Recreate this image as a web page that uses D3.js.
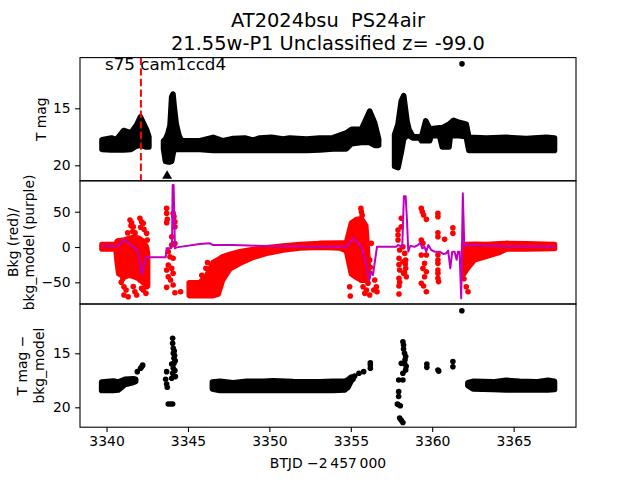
<!DOCTYPE html>
<html><head><meta charset="utf-8">
<script src="https://cdn.jsdelivr.net/npm/d3@7"></script>
<style>body{margin:0;background:#fff}svg{display:block}text{font-family:"DejaVu Sans",sans-serif}</style>
</head><body><svg id="c" width="640" height="480"></svg>
<script>
// ---------- DATA ----------
const titleLines = ["AT2024bsu\u00a0\u00a0PS24air", "21.55w-P1 Unclassified z= -99.0"];
const annot = "s75 cam1ccd4";
const xTicks = [3340, 3345, 3350, 3355, 3360, 3365];
const topTicks = [15, 20];
const midTicks = [-50, 0, 50];
const botTicks = [15, 20];
const sectorStart = 3342.11;

// dense black bands, top panel: [time, bright edge mag, faint edge mag]
const topSegA = [[3339.72,17.75,18.6],[3340.3,17.6,18.65],[3340.6,17.75,18.65],[3341.05,16.95,18.65],[3341.5,17.15,18.6],[3341.85,16.45,18.3],[3342.08,15.75,18.25],[3342.45,16.85,18.4],[3342.6,17.5,18.4]];
const topSegB = [[3343.5,17.85,18.55],[3343.62,17.7,19.65],[3343.75,17.3,19.7],[3343.9,16.5,19.7],[3344.0,14.0,19.65],[3344.08,13.75,19.0],[3344.15,14.8,18.6],[3344.28,16.4,18.6],[3344.45,17.4,18.6],[3344.61,17.85,18.6],[3345.73,17.85,18.6],[3346.55,17.55,18.7],[3347.16,17.85,18.7],[3347.78,17.65,18.7],[3348.49,17.6,18.7],[3349.0,17.8,18.7],[3349.41,17.6,18.7],[3350.13,17.55,18.7],[3350.84,17.7,18.7],[3351.25,17.6,18.7],[3352.28,17.7,18.7],[3353.09,17.6,18.65],[3353.91,17.58,18.56],[3354.73,17.15,18.56],[3355.05,16.85,18.1],[3355.65,16.85,18.0],[3356.16,15.25,18.0],[3356.47,16.3,18.25],[3356.71,17.7,18.25]];
const topSegD = [[3357.69,17.3,20.1],[3357.9,16.4,20.2],[3358.1,14.35,18.85],[3358.25,13.9,17.65],[3358.45,16.1,17.4],[3358.57,16.85,17.4],[3358.82,17.5,17.6],[3359.23,17.5,17.6],[3359.35,17.5,17.85],[3359.6,16.1,17.85],[3359.84,16.8,17.85],[3359.94,16.8,17.4],[3360.45,16.7,17.4],[3360.62,16.7,18.4],[3361.03,16.4,18.4],[3361.11,16.3,17.4],[3361.31,16.05,17.4],[3361.68,16.25,17.4],[3362.09,16.4,17.5],[3362.25,17.55,18.7],[3363.32,17.6,18.7],[3364.55,17.55,18.7],[3365.78,17.65,18.7],[3367.0,17.55,18.7],[3367.51,17.6,18.7]];
const topPoints = [[3361.83, 11.1]];
const topLimits = [[3343.72, 20.94]];

// middle panel: red background bands [time, high, low] and scattered red points, purple model
const midSegA = [[3339.72,3.5,-2.7],[3340.58,3.5,-2.7],[3340.65,8,-20],[3340.75,9,-38],[3341.1,10,-42],[3341.4,12,-40],[3341.7,14,-42],[3342.0,12,-45],[3342.25,8,-50],[3342.45,0,-55],[3342.52,-10,-55]];
const midSegB = [[3345.08,-50.6,-68.8],[3345.73,-50.6,-68.8],[3346.14,-41,-68.8],[3346.55,-22,-68.8],[3346.86,-18,-66.5],[3347.12,-14,-47],[3347.57,-10.5,-31],[3348.19,-6.7,-23],[3349.0,-3.5,-14.5],[3349.82,-1,-9],[3350.84,1.3,-4.2],[3351.87,3.6,-1.3],[3353.09,5.1,-0.3],[3354.32,5.5,-1.3],[3354.73,5.5,-5],[3355.04,34,-38],[3355.35,39,-43],[3355.65,40,-47],[3355.92,30,-47],[3356.06,-18,-43]];
const midSegC = [[3361.93,3.6,-38],[3362.2,3.6,-29],[3362.6,4,-18],[3363.32,3.6,-13],[3364.14,4.5,-7.4],[3364.55,5.1,-2.7],[3365.78,4.5,-2.7],[3367.51,3.6,-2]];
const midScatter = [[3341.3,20],[3341.44,38.2],[3341.5,30],[3341.54,34.4],[3341.64,28.8],[3341.6,22],[3341.75,20],[3342.05,40.6],[3342.1,28],[3342.15,35.8],[3342.25,33.5],[3342.3,25],[3342.46,19.4],[3342.5,9.9],
[3341.1,-42],[3341.07,-56.2],[3341.2,-60.9],[3341.07,-68],[3341.33,-70.4],[3341.64,-56],[3341.74,-63.3],[3341.85,-68],[3342.05,-46.7],[3342.15,-58.5],[3342.25,-60.9],[3342.42,-65.6],[3342.46,-56.2],[3340.9,-50],[3341.0,-45],
[3343.69,54.8],[3343.69,47.7],[3343.73,39.2],[3343.69,34.5],[3344.09,47.7],[3344.14,43],[3344.2,35.8],[3344.2,28.8],[3344.0,14.6],[3343.79,-6.6],[3343.89,-13.7],[3344.09,-16],[3343.79,-25.5],[3344.0,-30.2],[3343.69,-32.6],[3344.09,-37.3],[3343.79,-42],[3343.93,-46.7],[3343.69,-57.1],[3344.09,-53.8],[3344.2,-64.7],[3344.55,-63.3],[3344.0,2.8],[3344.2,5],
[3345.85,-40],[3346.1,-30],[3346.2,-22],
[3354.93,-56.2],[3354.97,-69.4],[3355.75,-56.2],[3355.86,-65.6],[3356.16,-68],[3356.47,-46.7],[3356.57,-56.2],[3356.61,-63.3],[3356.41,-60.9],[3356.26,5.2],[3356.16,-18.4],[3356.2,-28.8],[3356.06,-51.4],[3355.96,-61],[3355.62,55],[3355.65,50],[3355.7,45],
[3357.9,24.1],[3357.9,17],[3357.9,9.9],[3358.0,-4.2],[3357.96,-16],[3358.0,-32.6],[3357.96,-44.3],[3357.96,-55.2],[3357.96,-66.6],[3358.2,0.4],[3358.31,-9],[3358.37,-18.4],[3358.37,-30.2],[3358.41,-42],[3358.2,-20.8],[3358.24,-37.3],[3358.1,40.6],[3358.1,28.8],[3357.96,-25],[3358.0,-50],[3358.35,-24],[3358.3,-36],
[3359.33,54.8],[3359.39,50],[3359.47,45.3],[3359.64,39.2],[3359.33,9.9],[3359.43,5.2],[3359.33,-11.3],[3359.64,-11.3],[3359.53,-23.1],[3359.43,-30.2],[3359.64,-35],[3359.53,-42],[3359.33,-51.4],[3359.47,-55.2],[3359.64,-63.3],
[3360.35,47.7],[3360.35,43],[3360.35,20.3],[3360.35,14.6],[3360.35,-11.3],[3360.35,-18.4],[3360.35,-23.1],[3360.35,-32.6],[3360.35,-37.3],[3360.35,-44.3],[3360.39,-49],
[3360.76,10.9],[3361.27,27.4],[3361.27,19.4],[3362.09,-56.2],[3362.2,-63.3],[3361.95,-45]];
const bkgModel = [[3339.72,1.4],[3340.72,1.4],[3341.07,10.9],[3341.64,0.4],[3341.95,-6.6],[3342.15,-38.7],[3342.3,-26.9],[3342.42,-14.6],[3343.63,-14.6],[3343.69,-1.9],[3343.95,-1.9],[3344.02,2.8],[3344.06,88],[3344.12,88],[3344.2,-1.9],[3344.3,-0.5],[3345.73,4.2],[3346.35,5.2],[3346.55,2.8],[3347.78,2.8],[3349.21,1.9],[3353.09,0.4],[3354.73,0.4],[3355.14,12.3],[3355.65,0.4],[3355.95,-23.1],[3356.12,-46.7],[3356.26,-35],[3356.36,-39.6],[3356.61,0.4],[3357.79,0.4],[3357.9,2.8],[3358.16,0.4],[3358.26,72],[3358.37,72],[3358.45,38],[3358.53,-6.6],[3358.65,1.4],[3358.92,0.4],[3359.12,2.8],[3359.27,6.1],[3359.39,-1.9],[3359.53,0.4],[3359.63,-6.6],[3359.76,2.8],[3359.94,-4.2],[3360.15,-6.6],[3360.45,-6.6],[3360.7,-9.9],[3360.86,-8.9],[3360.98,-5.1],[3361.11,-30.2],[3361.23,-6.6],[3361.37,-6.6],[3361.5,-18],[3361.58,-6.6],[3361.68,-6.6],[3361.78,-72.7],[3361.88,76],[3361.97,1.4],[3362.29,2.8],[3364.13,1.4],[3367.61,0.4]];

// bottom panel: T mag - bkg_model
const botSegA = [[3339.7,17.66,18.45],[3340.41,17.56,18.45],[3340.72,17.66,18.4],[3341.13,17.4,17.9],[3341.64,17.35,17.7],[3341.79,17.4,17.6]];
const botSegB = [[3346.5,17.65,18.3],[3346.96,17.6,18.45],[3347.78,17.72,18.45],[3348.6,17.6,18.45],[3349.62,17.6,18.45],[3350.23,17.55,18.45],[3351.46,17.62,18.45],[3353.09,17.65,18.45],[3353.91,17.6,18.45],[3354.62,17.6,18.4],[3354.83,17.44,18.15],[3355.03,17.2,17.55],[3355.14,17.2,17.4]];
const botSegC = [[3362.19,17.72,18.0],[3362.5,17.6,18.3],[3363.72,17.65,18.35],[3364.54,17.5,18.4],[3365.36,17.6,18.4],[3366.38,17.65,18.4],[3367.1,17.5,18.4],[3367.51,17.6,18.35]];
const botScatter = [[3341.89,16.7],[3342.09,16.39],[3342.16,16.24],[3342.22,16.1],
[3344.06,13.61],[3344.06,14.07],[3344.1,14.54],[3344.1,15.0],[3344.14,15.46],[3344.14,15.93],[3344.1,16.39],[3344.06,16.85],[3344.23,17.16],[3344.0,17.31],[3343.69,16.7],[3343.63,17.41],[3343.69,17.84],[3343.73,18.15],[3343.79,19.69],[3343.93,19.69],[3344.06,19.69],[3344.18,15.2],[3344.22,15.7],[3344.0,16.0],[3344.2,16.6],[3344.16,14.8],
[3355.24,17.1],[3355.5,16.85],[3355.79,16.7],[3356.2,16.08],[3356.2,16.39],[3356.2,15.87],
[3358.2,13.93],[3358.24,14.23],[3358.24,14.6],[3358.3,15.0],[3358.37,15.3],[3358.3,15.93],[3358.37,16.54],[3358.2,16.85],[3358.1,15.93],[3358.33,15.6],[3358.4,16.2],[3357.94,17.47],[3358.2,17.47],[3357.94,18.55],[3357.94,19.0],[3357.86,19.69],[3358.04,19.85],[3357.9,19.75],[3358.0,21.0],[3358.2,21.4],[3358.1,21.2],
[3359.67,15.99],[3359.67,16.3],[3360.35,16.55],[3360.4,16.65],[3361.27,15.77],[3361.27,16.24],[3361.82,11.06]];

// ---------- LAYOUT ----------
const L = 80, R = 576;
const panels = {top:[57.6,180.8], mid:[180.8,304], bot:[304,427.2]};
const svg = d3.select("#c");
const x = d3.scaleLinear().domain([3338.37, 3368.83]).range([L, R]);
const yTop = d3.scaleLinear().domain([10.55, 21.36]).range(panels.top);
const yMid = d3.scaleLinear().domain([-80.7, 93.8]).range([panels.mid[1], panels.mid[0]]);
const yBot = d3.scaleLinear().domain([10.44, 21.84]).range(panels.bot);
const DOT = 2.8;

const defs = svg.append("defs");
Object.entries(panels).forEach(([k,[a,b]]) => {
  defs.append("clipPath").attr("id","clip-"+k).append("rect").attr("x",L).attr("y",a).attr("width",R-L).attr("height",b-a);
});

function bands(g, segs, y, color){
  const area = d3.area().x(d=>x(d[0])).y0(d=>y(d[2])).y1(d=>y(d[1]));
  g.selectAll(null).data(segs).join("path").attr("d",area)
    .attr("fill",color).attr("stroke",color).attr("stroke-width",DOT*2).attr("stroke-linejoin","round");
}
function dots(g, pts, y, color){
  g.selectAll(null).data(pts).join("circle").attr("cx",d=>x(d[0])).attr("cy",d=>y(d[1])).attr("r",DOT).attr("fill",color);
}

// top panel
const gT = svg.append("g").attr("clip-path","url(#clip-top)");
bands(gT, [topSegA, topSegB, topSegD], yTop, "#000");
dots(gT, topPoints, yTop, "#000");
gT.selectAll(null).data(topLimits).join("path").attr("d", d3.symbol(d3.symbolTriangle, 42)())
  .attr("transform", d=>`translate(${x(d[0])},${yTop(d[1])})`).attr("fill","#000");
gT.append("line").attr("x1",x(sectorStart)).attr("x2",x(sectorStart)).attr("y1",panels.top[0]).attr("y2",panels.top[1])
  .attr("stroke","#ff0000").attr("stroke-width",2).attr("stroke-dasharray","7.4,3.2");

// middle panel
const gM = svg.append("g").attr("clip-path","url(#clip-mid)");
bands(gM, [midSegA, midSegB, midSegC], yMid, "#ff0000");
dots(gM, midScatter, yMid, "#ff0000");
gM.append("path").datum(bkgModel).attr("d", d3.line().x(d=>x(d[0])).y(d=>yMid(d[1])))
  .attr("fill","none").attr("stroke","#bf00bf").attr("stroke-width",2).attr("stroke-linejoin","round");

// bottom panel
const gB = svg.append("g").attr("clip-path","url(#clip-bot)");
bands(gB, [botSegA, botSegB, botSegC], yBot, "#000");
dots(gB, botScatter, yBot, "#000");

// frames
Object.values(panels).forEach(([a,b]) => {
  svg.append("rect").attr("x",L).attr("y",a).attr("width",R-L).attr("height",b-a)
    .attr("fill","none").attr("stroke","#000").attr("stroke-width",1.1);
});

// axes
function yAxis(scale, ticks){
  const g = svg.append("g").attr("transform",`translate(${L},0)`)
    .call(d3.axisLeft(scale).tickValues(ticks).tickSize(4.9).tickPadding(4.4).tickFormat(d3.format("d")));
  g.select(".domain").remove();
  g.selectAll("text").attr("font-size","13.9px").attr("font-family","DejaVu Sans").attr("fill","#000");
  g.selectAll("line").attr("stroke-width",1.1);
}
yAxis(yTop, topTicks); yAxis(yMid, midTicks); yAxis(yBot, botTicks);
const gx = svg.append("g").attr("transform",`translate(0,${panels.bot[1]})`)
  .call(d3.axisBottom(x).tickValues(xTicks).tickSize(4.9).tickPadding(4.4).tickFormat(d3.format("d")));
gx.select(".domain").remove();
gx.selectAll("text").attr("font-size","13.9px").attr("font-family","DejaVu Sans").attr("fill","#000");
gx.selectAll("line").attr("stroke-width",1.1);

// texts
const cx = (L+R)/2;
svg.append("text").attr("x",cx).attr("y",27).attr("text-anchor","middle").attr("font-size","19.4px").text(titleLines[0]);
svg.append("text").attr("x",cx).attr("y",50).attr("text-anchor","middle").attr("font-size","19.4px").text(titleLines[1]);
svg.append("text").attr("x",105).attr("y",70).attr("font-size","16.7px").text(annot);
svg.append("text").attr("x",cx).attr("y",468).attr("text-anchor","middle").attr("font-size","13.9px").text("BTJD \u22122\u2009457\u2009000");

function ylab(lines, xs, yc){
  lines.forEach((s,i)=>{
    svg.append("text").attr("transform",`translate(${xs[i]},${yc}) rotate(-90)`).attr("text-anchor","middle")
      .attr("dy","0.35em").attr("font-size","13.9px").text(s);
  });
}
ylab(["T mag"], [41], (panels.top[0]+panels.top[1])/2);
ylab(["Bkg (red)/", "bkg_model (purple)"], [13, 29], (panels.mid[0]+panels.mid[1])/2);
ylab(["T mag \u2212", "bkg_model"], [22, 39], (panels.bot[0]+panels.bot[1])/2);
</script></body></html>
